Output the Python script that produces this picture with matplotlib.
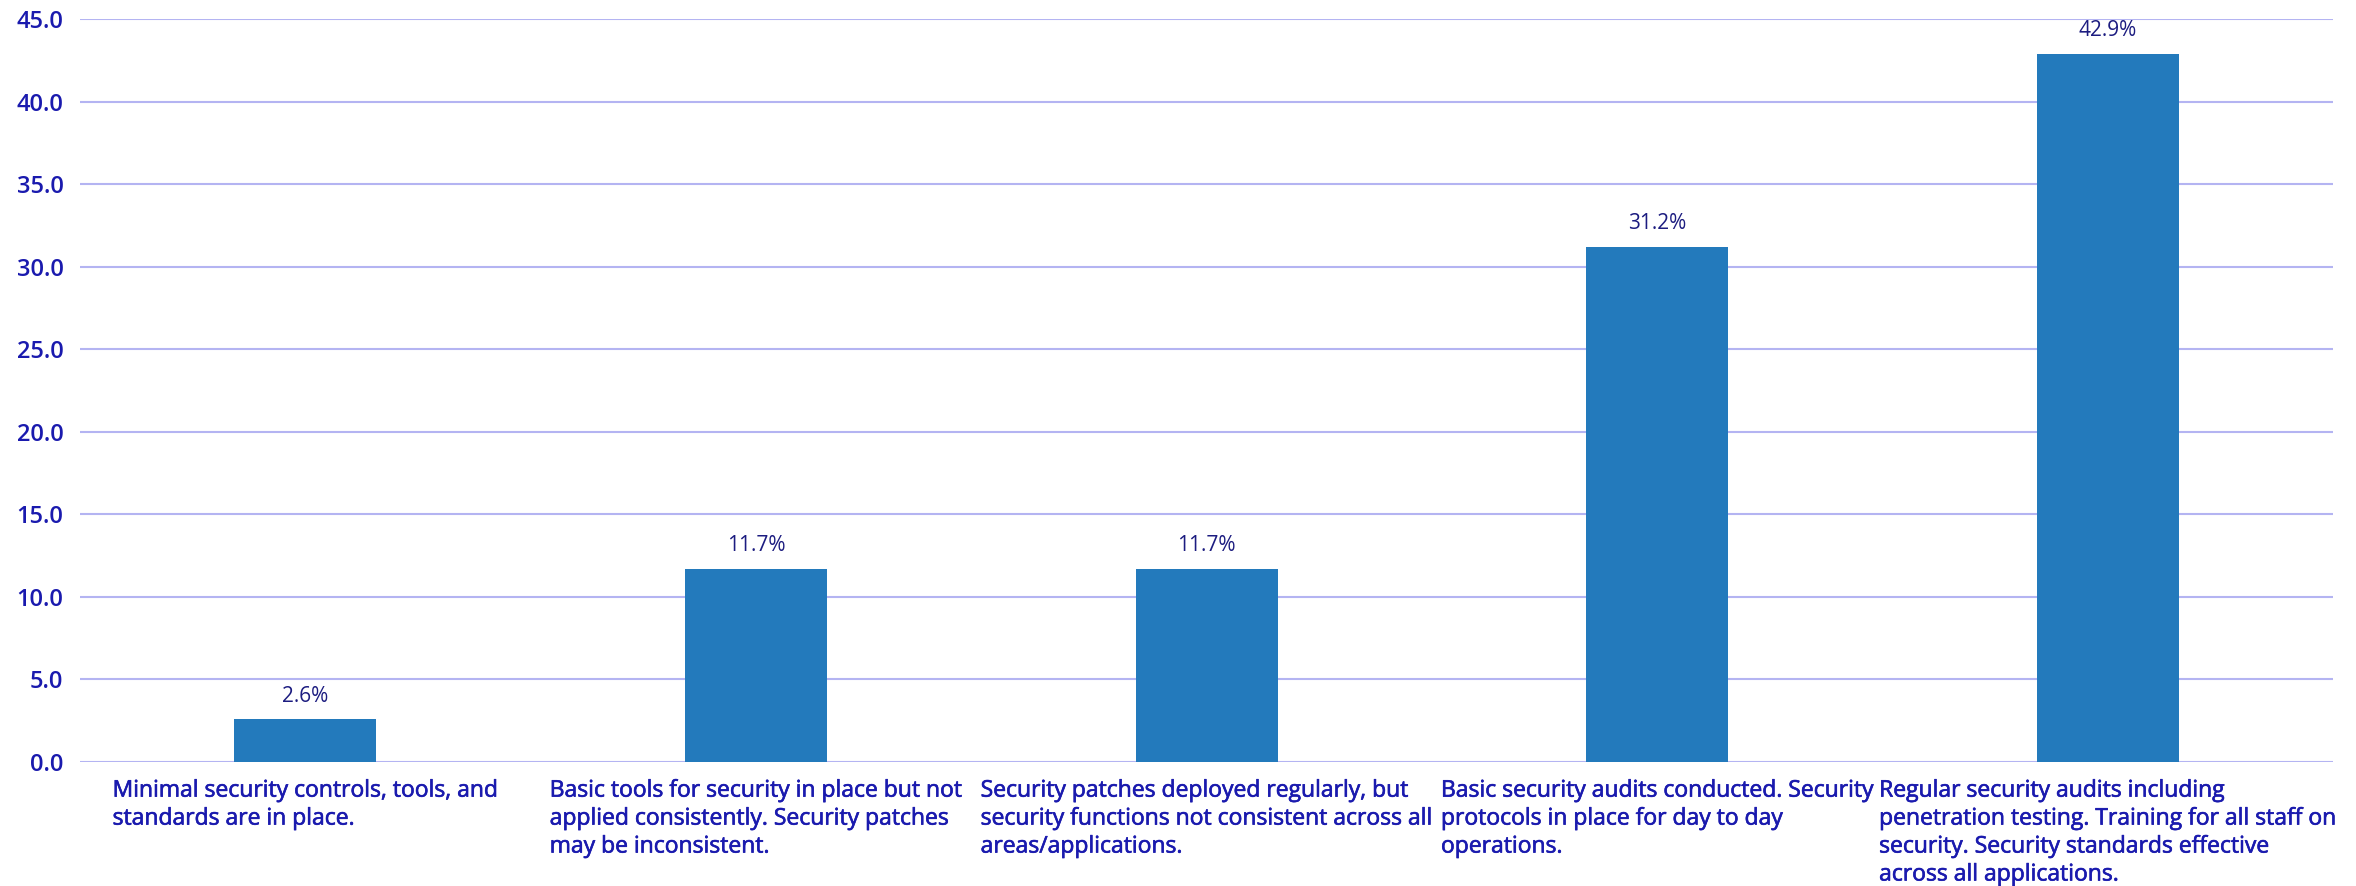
import matplotlib
matplotlib.use("Agg")
import matplotlib.pyplot as plt
import matplotlib.patheffects as pe

# Security maturity levels and share of respondents (%)
categories = [
    "Minimal security controls, tools, and\nstandards are in place.",
    "Basic tools for security in place but not\napplied consistently. Security patches\nmay be inconsistent.",
    "Security patches deployed regularly, but\nsecurity functions not consistent across all\nareas/applications.",
    "Basic security audits conducted. Security\nprotocols in place for day to day\noperations.",
    "Regular security audits including\npenetration testing. Training for all staff on\nsecurity. Security standards effective\nacross all applications.",
]
values = [2.6, 11.7, 11.7, 31.2, 42.9]
yticks = [0, 5, 10, 15, 20, 25, 30, 35, 40, 45]

BAR = "#237abc"
GRID = "#b4b4f2"
TICK = "#1a1aae"
LABEL = "#1c1c80"
FONT = ["Open Sans", "DejaVu Sans"]

fig = plt.figure(figsize=(23.56, 8.86), dpi=100)
ax = fig.add_axes([0.034, 0.14, 0.9563, 0.8386])

x = list(range(len(values)))
bars = ax.bar(x, values, width=0.315, color=BAR, zorder=3)

ax.set_xlim(-0.5, len(values) - 0.5)
ax.set_ylim(0, 45)
ax.set_yticks(yticks)
ax.set_yticklabels([f"{v:.1f}" for v in yticks], fontsize=17,
                   family=FONT, color=TICK, fontweight="semibold")
ax.tick_params(axis="y", length=0, pad=12)
ax.tick_params(axis="x", length=0)
ax.set_xticks([])
ax.grid(axis="y", color=GRID, linewidth=1.5, zorder=0)
ax.set_axisbelow(True)
for s in ax.spines.values():
    s.set_visible(False)

# value labels above bars
for xi, v in zip(x, values):
    ax.annotate(f"{v:.1f}%", (xi, v), xytext=(0, 9), textcoords="offset points",
                ha="center", va="bottom", fontsize=15, family=FONT, color=LABEL)

# category labels: block centred under each bar, lines left-aligned
medium = [pe.withStroke(linewidth=0.45, foreground=TICK)]
for xi, lab in zip(x, categories):
    ax.annotate(lab, (xi, 0), xytext=(0, -12), textcoords="offset points",
                ha="center", va="top", multialignment="left",
                fontsize=16.5, family=FONT, color=TICK,
                linespacing=1.22, path_effects=medium)

fig.savefig("out.png", dpi=100)
